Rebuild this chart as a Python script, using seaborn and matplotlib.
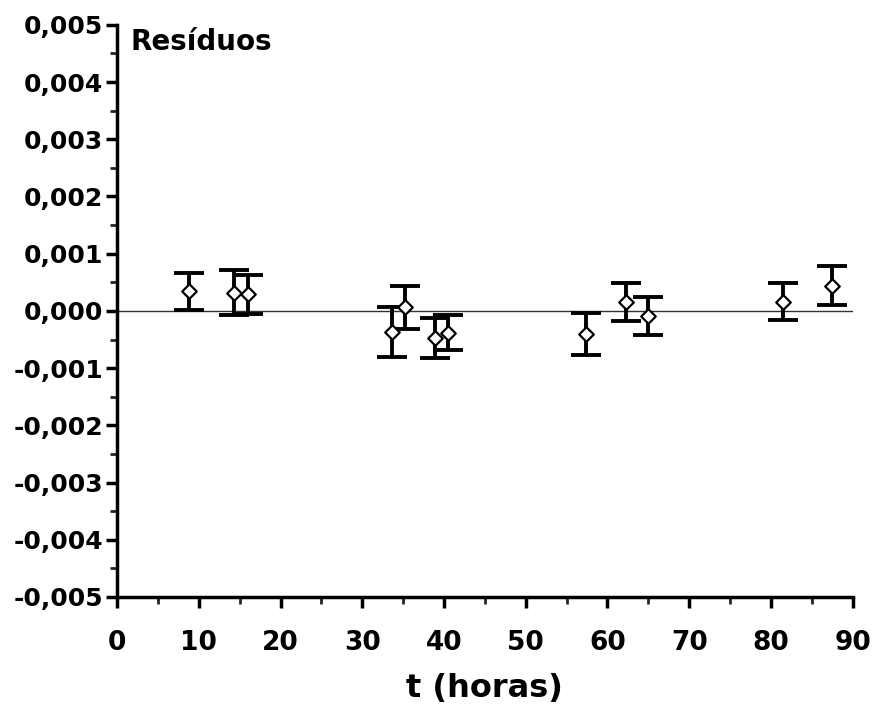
import numpy as np
import pandas as pd
import seaborn as sns
import matplotlib.pyplot as plt
from matplotlib.ticker import MultipleLocator, FuncFormatter

# residuals
t_horas = [8.8, 14.3, 16.0, 33.6, 35.2, 38.9, 40.5, 57.4, 62.3, 64.9, 81.5, 87.5]
residuos = [0.00034, 0.00032, 0.00029, -0.00037, 0.00006, -0.00048, -0.00038,
            -0.00040, 0.00016, -0.00009, 0.00016, 0.00044]
erro = [0.00033, 0.00040, 0.00034, 0.00043, 0.00038, 0.00035, 0.00031,
        0.00037, 0.00033, 0.00033, 0.00032, 0.00034]

df = pd.DataFrame({'t': t_horas, 'res': residuos, 'err': erro})

sns.set_theme(style="ticks")
plt.rcParams['font.family'] = ['DejaVu Sans']
plt.rcParams['text.color'] = 'black'
plt.rcParams['axes.labelcolor'] = 'black'

fig = plt.figure(figsize=(8.8, 7.09), dpi=100)
ax = fig.add_axes([0.133, 0.158, 0.836, 0.807])

ax.axhline(0, color='#333333', lw=1.0, zorder=1)
ax.errorbar(df.t, df.res, yerr=df.err, fmt='none', ecolor='black',
            elinewidth=2.8, capsize=11, capthick=2.8, zorder=2)
sns.scatterplot(data=df, x='t', y='res', marker='D', s=55, color='white',
                edgecolor='black', linewidth=1.6, zorder=3, ax=ax)

ax.set_xlim(0, 90)
ax.set_ylim(-0.005, 0.005)
ax.xaxis.set_major_locator(MultipleLocator(10))
ax.xaxis.set_minor_locator(MultipleLocator(5))
ax.yaxis.set_major_locator(MultipleLocator(0.001))
ax.yaxis.set_minor_locator(MultipleLocator(0.0005))
ax.yaxis.set_major_formatter(FuncFormatter(lambda v, p: f"{v:.3f}".replace('.', ',').replace('-0,000', '0,000')))

for s in ['top', 'right']:
    ax.spines[s].set_visible(False)
for s in ['left', 'bottom']:
    ax.spines[s].set_linewidth(2.5)
    ax.spines[s].set_color('black')

ax.tick_params(axis='both', which='major', direction='out', length=8, width=2.5,
               colors='black')
ax.tick_params(axis='both', which='minor', direction='out', length=5, width=2.0)
ax.tick_params(axis='y', labelsize=18, pad=2)
ax.tick_params(axis='x', labelsize=19, pad=16)
for lab in ax.get_xticklabels() + ax.get_yticklabels():
    lab.set_fontweight('bold')

ax.set_xlabel('t (horas)', fontsize=23, fontweight='bold', labelpad=12)
ax.set_ylabel('')
ax.text(0.018, 0.995, 'Resíduos', transform=ax.transAxes, fontsize=20,
        fontweight='bold', va='top', ha='left')

fig.savefig('out.png', dpi=100)
